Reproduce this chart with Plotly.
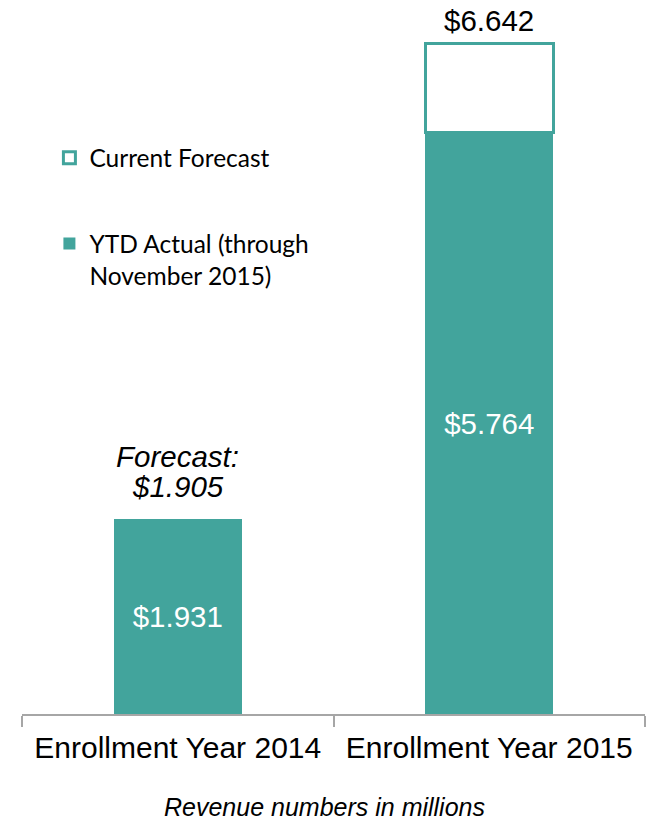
import plotly.graph_objects as go

categories = ["Enrollment Year 2014", "Enrollment Year 2015"]
ytd_actual = [1.931, 5.764]
current_forecast = [None, 6.642]
prior_forecast_2014 = 1.905
actual_labels = ["$1.931", "$5.764"]
forecast_label = "$6.642"

TEAL = "#42A49C"
FONT = "Liberation Sans, Arial, sans-serif"

remainder = [None if f is None else round(f - a, 3) for f, a in zip(current_forecast, ytd_actual)]

fig = go.Figure()
fig.add_trace(go.Bar(
    x=categories, y=ytd_actual, name="YTD Actual (through<br>November 2015)",
    marker=dict(color=TEAL, line=dict(width=0)),
    text=actual_labels, textposition="inside", insidetextanchor="middle",
    textfont=dict(color="white", size=29.5, family=FONT),
    width=0.41, legendgroup="a", legendrank=2, hoverinfo="skip",
))
fig.add_trace(go.Bar(
    x=categories, y=remainder, name="Current Forecast",
    marker=dict(color="white", line=dict(color=TEAL, width=3)),
    width=0.41, legendgroup="b", legendrank=1, hoverinfo="skip", textposition="none",
))

fig.add_annotation(x=categories[1], y=current_forecast[1], text=forecast_label,
                   showarrow=False, yanchor="bottom", yshift=5,
                   font=dict(size=29.5, family=FONT, color="black"))
fig.add_annotation(x=categories[0], y=ytd_actual[0], text="<i>$%.3f</i>" % prior_forecast_2014,
                   showarrow=False, yanchor="bottom", yshift=14,
                   font=dict(size=29.5, family=FONT, color="black"))
fig.add_annotation(x=categories[0], y=ytd_actual[0], text="<i>Forecast:</i>",
                   showarrow=False, yanchor="bottom", yshift=44,
                   font=dict(size=29.5, family=FONT, color="black"))
fig.add_annotation(xref="paper", yref="paper", x=0.485, y=-0.109, yanchor="top",
                   text="<i>Revenue numbers in millions</i>", showarrow=False,
                   font=dict(size=25, family=FONT, color="black"))

fig.update_layout(
    width=649, height=821,
    margin=dict(l=22, r=4, t=4, b=107),
    barmode="stack",
    plot_bgcolor="white", paper_bgcolor="white",
    showlegend=True,
    legend=dict(x=0.044, y=0.815, xanchor="left", yanchor="top",
                font=dict(family="Lato, Carlito, sans-serif", size=24.5, color="black"),
                traceorder="grouped", tracegroupgap=51, valign="top",
                bgcolor="rgba(0,0,0,0)"),
    font=dict(family=FONT),
)
fig.update_xaxes(showline=True, linecolor="#A6A6A6", linewidth=2,
                 ticks="outside", tickson="boundaries", ticklen=11, tickwidth=2,
                 tickcolor="#A6A6A6", showgrid=False, zeroline=False,
                 tickfont=dict(size=30, family=FONT, color="black"),
                 ticklabelstandoff=6)
fig.update_yaxes(range=[0, 7.037], visible=False)

fig.write_html("out.html", config={"displayModeBar": False},
               post_script="document.body.style.margin='0';")
